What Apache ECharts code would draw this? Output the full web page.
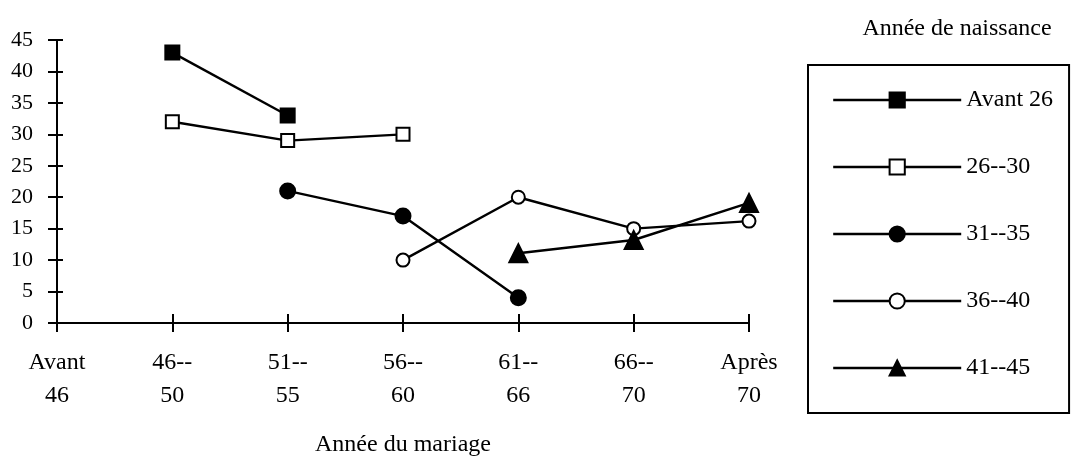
<!DOCTYPE html>
<html>
<head>
<meta charset="utf-8">
<script src="https://cdn.jsdelivr.net/npm/echarts@6/dist/echarts.min.js"></script>
<style>html,body{margin:0;padding:0;background:#fff}#c{width:1071px;height:457px}</style>
</head>
<body>
<div id="c"></div>
<script>
const categories = ['Avant\n46', '46--\n50', '51--\n55', '56--\n60', '61--\n66', '66--\n70', 'Après\n70'];
const seriesNames = ['Avant 26', '26--30', '31--35', '36--40', '41--45'];
const avant26 = [null, 43, 33, null, null, null, null];
const s26_30 = [null, 32, 29, 30, null, null, null];
const s31_35 = [null, null, 21, 17, 4, null, null];
const s36_40 = [null, null, null, 10, 20, 15, 16.2];
const s41_45 = [null, null, null, null, 11.1, 13.2, 19.1];
const yTicks = { min: 0, max: 45, interval: 5 };

const FONT = "'Liberation Serif', 'Times New Roman', serif";
const chart = echarts.init(document.getElementById('c'));

function mk(name, data, symbol, size) {
  return {
    name: name, type: 'line', data: data, symbol: symbol, symbolSize: size,
    showAllSymbol: true, connectNulls: false,
    lineStyle: { color: '#000', width: 2.4 },
    itemStyle: { color: '#000', borderColor: '#000', borderWidth: 2 },
    emphasis: { disabled: true }, animation: false, xAxisIndex: 0, yAxisIndex: 0
  };
}

chart.setOption({
  animation: false,
  backgroundColor: '#fff',
  textStyle: { fontFamily: FONT, color: '#000' },
  title: {
    text: 'Année de naissance', left: 957, top: 17, textAlign: 'center', padding: 0,
    textStyle: { fontFamily: FONT, fontSize: 24, fontWeight: 'normal', color: '#000' }
  },
  grid: { left: 57, right: 322, top: 40, bottom: 134, containLabel: false, outerBoundsMode: 'none' },
  legend: {
    orient: 'vertical', left: 808, top: 65,
    padding: [23, 16, 33, 24],
    itemWidth: 128, itemHeight: 19, itemGap: 43,
    borderColor: '#000', borderWidth: 2,
    lineStyle: { color: '#000', width: 2.4 },
    textStyle: { fontFamily: FONT, fontSize: 24, color: '#000' },
    data: seriesNames,
    selectedMode: false
  },
  xAxis: [{
    type: 'category', data: categories, boundaryGap: false, position: 'bottom',
    axisLine: { lineStyle: { color: '#000', width: 2 } },
    axisTick: { show: true, alignWithLabel: true, length: 9, lineStyle: { color: '#000', width: 2 } },
    axisLabel: { fontFamily: FONT, fontSize: 24, color: '#000', lineHeight: 33, margin: 23, interval: 0 },
    splitLine: { show: false },
    name: 'Année du mariage', nameLocation: 'middle', nameGap: 110,
    nameTextStyle: { fontFamily: FONT, fontSize: 24, color: '#000' }
  }, {
    type: 'category', data: categories, boundaryGap: false, position: 'bottom',
    axisLine: { show: false },
    axisTick: { show: true, inside: true, length: 9, lineStyle: { color: '#000', width: 2 } },
    axisLabel: { show: false }, splitLine: { show: false }
  }],
  yAxis: [{
    type: 'value', min: yTicks.min, max: yTicks.max, interval: yTicks.interval, position: 'left',
    axisLine: { show: true, lineStyle: { color: '#000', width: 2 } },
    axisTick: { show: true, length: 9, lineStyle: { color: '#000', width: 2 } },
    axisLabel: { fontFamily: FONT, fontSize: 22, color: '#000', margin: 24 },
    splitLine: { show: false }
  }, {
    type: 'value', min: yTicks.min, max: yTicks.max, interval: yTicks.interval, position: 'left',
    axisLine: { show: false },
    axisTick: { show: true, inside: true, length: 6, lineStyle: { color: '#000', width: 2 } },
    axisLabel: { show: false }, splitLine: { show: false }
  }],
  series: [
    mk(seriesNames[0], avant26, 'rect', 14),
    mk(seriesNames[1], s26_30, 'emptyRect', 13),
    mk(seriesNames[2], s31_35, 'circle', 15),
    mk(seriesNames[3], s36_40, 'emptyCircle', 13),
    mk(seriesNames[4], s41_45, 'triangle', 18)
  ]
});
</script>
</body>
</html>
